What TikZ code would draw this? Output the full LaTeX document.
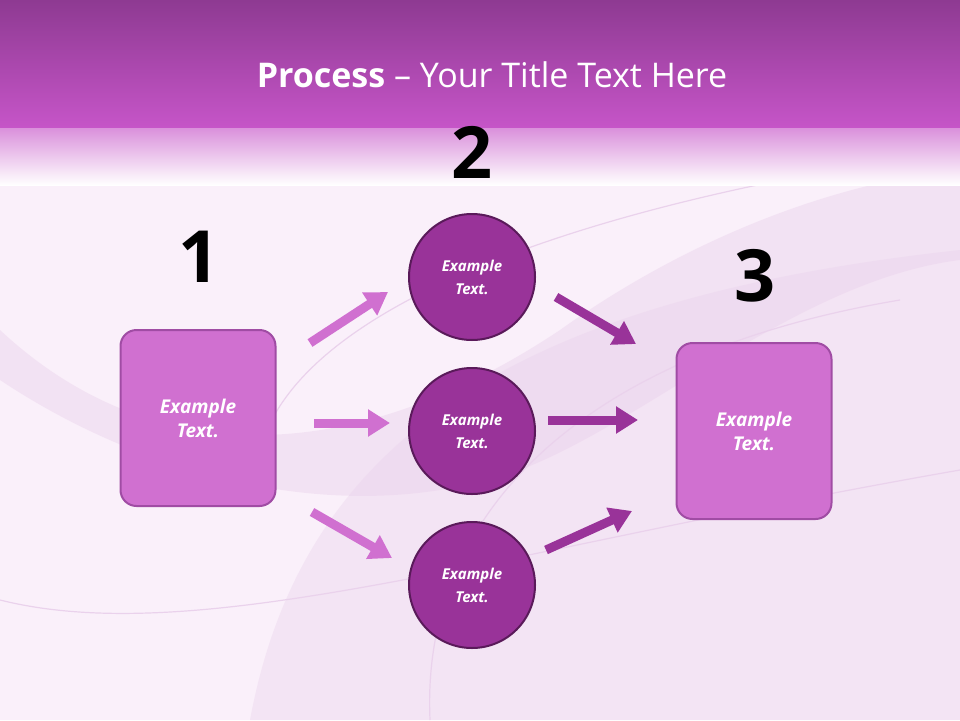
\documentclass[tikz,border=0pt]{standalone}
\usepackage{fontspec}
\setmainfont{Open Sans}
\usetikzlibrary{arrows.meta}
\definecolor{bg}{HTML}{FAF0FA}
\definecolor{topc}{HTML}{8E3A92}
\definecolor{midc}{HTML}{C655C8}
\definecolor{boxf}{HTML}{D070D0}
\definecolor{boxd}{HTML}{A04CA4}
\definecolor{circf}{HTML}{993399}
\definecolor{circd}{HTML}{5A1A5A}
\definecolor{curve}{HTML}{EAD2EC}
\tikzset{
 sqbox/.style={draw=boxd,line width=2pt,fill=boxf,rounded corners=16pt,minimum width=155pt,minimum height=176pt,text=white,font=\bfseries\itshape\fontsize{19}{24}\selectfont,align=center},
 circ/.style={circle,draw=circd,line width=2pt,fill=circf,minimum size=126pt,text=white,font=\bfseries\itshape\fontsize{15}{23}\selectfont,align=center},
 num/.style={font=\bfseries\fontsize{72}{72}\selectfont,text=black},
 larr/.style={draw=boxf,line width=9pt,-{Triangle[length=22pt,width=26pt]}},
 darr/.style={draw=circf,line width=9pt,-{Triangle[length=22pt,width=26pt]}},
}
\begin{document}
\begin{tikzpicture}[x=1pt,y=-1pt]
\useasboundingbox (0,0) rectangle (960,720);
\fill[bg] (0,0) rectangle (960,720);
% decorative curves
\begin{scope}
\clip (0,0) rectangle (960,720);
\fill[curve,opacity=0.45] (0,330) .. controls (150,470) and (350,470) .. (560,330) .. controls (700,230) and (850,180) .. (960,170) -- (960,260) .. controls (800,280) and (650,420) .. (520,470) .. controls (350,530) and (150,480) .. (0,380) -- cycle;
\fill[curve,opacity=0.4] (250,720) .. controls (300,450) and (500,300) .. (960,250) -- (960,720) -- cycle;
\draw[curve,line width=1.2pt] (260,450) .. controls (300,300) and (600,200) .. (960,150);
\draw[curve,line width=1.2pt] (0,600) .. controls (200,650) and (500,550) .. (960,470);
\draw[curve,line width=1.2pt] (430,720) .. controls (420,500) and (600,350) .. (900,300);
\end{scope}
% title band
\shade[top color=topc,bottom color=midc] (0,0) rectangle (960,128);
\shade[top color=midc!65!white,bottom color=white] (0,128) rectangle (960,185);
\shade[top color=white,bottom color=white,opacity=0] (0,185) rectangle (960,186);
\node[text=white,font=\fontsize{34}{40}\selectfont] (title) at (492,75) {\textbf{Process} – Your Title Text Here};
% nodes
\node[sqbox] (b1) at (198,418) {Example\\Text.};
\node[sqbox] (b3) at (754,431) {Example\\Text.};
\node[circ] (c1) at (472,277) {Example\\Text.};
\node[circ] (c2) at (472,431) {Example\\Text.};
\node[circ] (c3) at (472,585) {Example\\Text.};
\node[num] (n1) at (199,257) {1};
\node[num] (n2) at (472,152) {2};
\node[num] (n3) at (755,276) {3};
% arrows
\coordinate (a1s) at (310,343); \coordinate (a1e) at (388,292);
\coordinate (a2s) at (314,423); \coordinate (a2e) at (390,423);
\coordinate (a3s) at (312,512); \coordinate (a3e) at (392,558);
\coordinate (d1s) at (556,297); \coordinate (d1e) at (636,344);
\coordinate (d2s) at (548,420); \coordinate (d2e) at (638,420);
\coordinate (d3s) at (546,550); \coordinate (d3e) at (632,511);
\draw[larr] (a1s) -- (a1e);
\draw[larr] (a2s) -- (a2e);
\draw[larr] (a3s) -- (a3e);
\draw[darr] (d1s) -- (d1e);
\draw[darr] (d2s) -- (d2e);
\draw[darr] (d3s) -- (d3e);
\end{tikzpicture}
\end{document}
